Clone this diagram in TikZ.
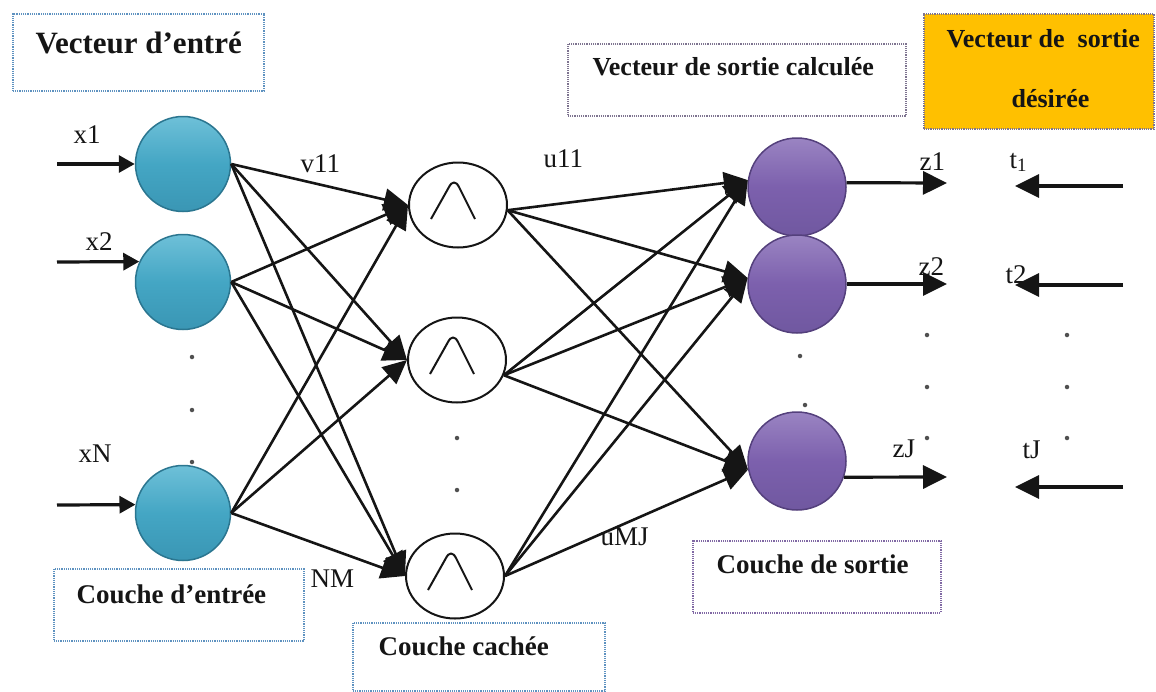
\documentclass[tikz,border=0pt]{standalone}
\usepackage{fontspec}
\setmainfont{Liberation Serif}
\usetikzlibrary{arrows.meta,shapes.geometric}

\definecolor{intop}{HTML}{6EC0D8}
\definecolor{inmid}{HTML}{44A6C4}
\definecolor{inbot}{HTML}{3A96B4}
\definecolor{inrim}{HTML}{2B7690}
\definecolor{outtop}{HTML}{9A84C2}
\definecolor{outmid}{HTML}{7C60AD}
\definecolor{outbot}{HTML}{7058A0}
\definecolor{outrim}{HTML}{54407C}
\definecolor{bluedot}{HTML}{5E92C0}
\definecolor{purpledot}{HTML}{8068A4}
\definecolor{greydot}{HTML}{7E7490}
\definecolor{gold}{HTML}{FFC000}
\definecolor{ink}{HTML}{151515}

\begin{document}
\begin{tikzpicture}[x=1pt,y=-1pt,
  innode/.style={circle, minimum size=95pt, inner sep=0pt, draw=inrim, line width=1.5pt,
    top color=intop, bottom color=inbot, middle color=inmid},
  outnode/.style={circle, minimum size=98pt, inner sep=0pt, draw=outrim, line width=1.5pt,
    top color=outtop, bottom color=outbot, middle color=outmid},
  hidnode/.style={ellipse, minimum width=98pt, minimum height=85pt, inner sep=0pt,
    draw=ink, line width=2pt, fill=white},
  caret/.style={draw=ink, line width=2pt, line join=round},
  conn/.style={draw=ink, line width=2.6pt, -{Triangle[length=24pt,width=22pt]}},
  inarr/.style={draw=ink, line width=3.2pt, -{Triangle[length=16pt,width=17pt]}},
  outarr/.style={draw=ink, line width=3.2pt, -{Triangle[length=24pt,width=23pt]}},
  tbox/.style={draw, line width=1.5pt, dash pattern=on 1.2pt off 1pt, inner sep=0pt},
  boxtext/.style={anchor=base west, text=ink, font=\bfseries\fontsize{27}{32}\selectfont},
  lbl/.style={anchor=base west, text=ink, font=\fontsize{27}{32}\selectfont},
  dotmark/.style={circle, fill=ink!75, inner sep=0pt, minimum size=4.5pt}
]
\useasboundingbox (0,0) rectangle (1156,691);

% ---- label boxes ----
\node[tbox, draw=bluedot, minimum width=251pt, minimum height=77pt, anchor=north west] (bVE) at (12,13) {};
\node[boxtext, font=\bfseries\fontsize{31}{36}\selectfont] (tVE) at (32,53) {Vecteur d’entré};

\node[tbox, draw=greydot, minimum width=338pt, minimum height=72pt, anchor=north west] (bVC) at (567,43) {};
\node[boxtext, font=\bfseries\fontsize{26}{31}\selectfont] (tVC) at (589,75) {Vecteur de sortie calculée};

\node[tbox, draw=greydot, fill=gold, minimum width=230pt, minimum height=115pt, anchor=north west] (bVD) at (923,13) {};
\node[boxtext, font=\bfseries\fontsize{26}{31}\selectfont] (tVD1) at (943,47) {Vecteur de\ \ sortie};
\node[boxtext, font=\bfseries\fontsize{26}{31}\selectfont] (tVD2) at (1008,107) {désirée};

\node[tbox, draw=bluedot, minimum width=250pt, minimum height=72pt, anchor=north west] (bCE) at (53,568) {};
\node[boxtext] (tCE) at (73,603) {Couche d’entrée};

\node[tbox, draw=bluedot, minimum width=252pt, minimum height=68pt, anchor=north west] (bCC) at (352,622) {};
\node[boxtext] (tCC) at (375,655) {Couche cachée};

\node[tbox, draw=purpledot, minimum width=248pt, minimum height=72pt, anchor=north west] (bCS) at (692,540) {};
\node[boxtext] (tCS) at (713,573) {Couche de sortie};

% ---- neurons ----
\node[innode] (in1) at (183,164) {};
\node[innode] (in2) at (183,282) {};
\node[innode] (in3) at (183,513) {};

\node[hidnode] (h1) at (458,205) {};
\node[hidnode] (h2) at (457,360) {};
\node[hidnode] (h3) at (455,576) {};

\node[outnode] (out1) at (797,187) {};
\node[outnode] (out2) at (797,284) {};
\node[outnode] (out3) at (797,461) {};

% bump symbol in the hidden units
\foreach \h in {h1,h2,h3}{
  \draw[caret, shift={(\h.center)}] (-27,14) -- (-9,-18)
     .. controls (-6,-24) and (-2,-24) .. (1,-18) -- (17,14);
}

% ---- weighted connections ----
\foreach \i in {in1,in2,in3}{
  \foreach \h in {h1,h2,h3}{
    \draw[conn] (\i.east) -- (\h.west);
  }
}
\foreach \h/\a in {h1/-6,h2/-18,h3/0}{
  \foreach \o/\b in {out1/172,out2/173,out3/190}{
    \draw[conn] (\h.\a) -- (\o.\b);
  }
}

% ---- inputs ----
\coordinate (s1) at (57,164);
\coordinate (s2) at (57,262);
\coordinate (s3) at (57,505);
\draw[inarr] (s1) -- (in1.west);
\draw[inarr] (s2) -- (in2.155);
\draw[inarr] (s3) -- (in3.170);

% ---- computed outputs ----
\coordinate (e1) at (947,183);
\coordinate (e2) at (947,284);
\coordinate (e3) at (947,477);
\draw[outarr] (out1.5) -- (e1);
\draw[outarr] (out2.east) -- (e2);
\draw[outarr] (out3.-19) -- (e3);

% ---- desired outputs ----
\coordinate (ta1) at (1123,186);
\coordinate (tb1) at (1015,186);
\coordinate (ta2) at (1123,285);
\coordinate (tb2) at (1015,285);
\coordinate (ta3) at (1123,487);
\coordinate (tb3) at (1015,487);
\draw[outarr] (ta1) -- (tb1);
\draw[outarr] (ta2) -- (tb2);
\draw[outarr] (ta3) -- (tb3);

% ---- labels ----
\node[lbl] (lx1) at (70,143) {x1};
\node[lbl] (lx2) at (82,250) {x2};
\node[lbl] (lxN) at (75,462) {xN};
\node[lbl] (lv11) at (297,172) {v11};
\node[lbl] (lu11) at (540,167) {u11};
\node[lbl] (lvNM) at (307,587) {NM};
\node[lbl] (luMJ) at (597,545) {uMJ};
\node[lbl] (lz1) at (916,170) {z1};
\node[lbl] (lz2) at (915,275) {z2};
\node[lbl] (lzJ) at (889,457) {zJ};
\node[lbl] (lt1) at (1006,168) {t\textsubscript{1}};
\node[lbl] (lt2) at (1002,283) {t2};
\node[lbl] (ltJ) at (1019,458) {tJ};

% ---- ellipsis dots ----
\foreach \p [count=\k] in {(192,357),(192,410),(192,462),
                           (457,438),(457,490),
                           (800,356),(805,405),
                           (927,335),(927,387),(927,438),
                           (1067,335),(1067,387),(1067,438)}{
  \node[dotmark] (dot\k) at \p {};
}
\end{tikzpicture}
\end{document}
